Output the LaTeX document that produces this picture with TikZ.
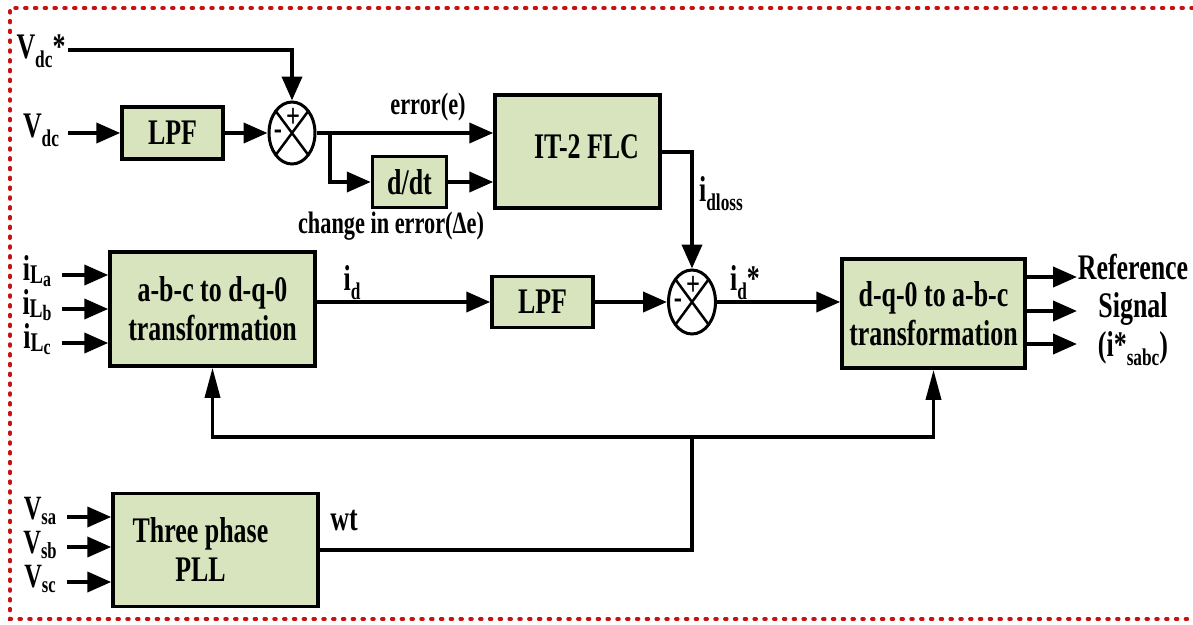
\documentclass[tikz,border=0pt]{standalone}
\usepackage{fontspec}
\setmainfont{Liberation Serif}[FakeStretch=0.72]
\usepackage{graphicx}
\usetikzlibrary{arrows.meta,shapes.geometric,calc}
\definecolor{boxgreen}{RGB}{215,228,189}
\definecolor{dotred}{RGB}{200,18,18}
\newcommand\lwr[1]{\raisebox{-0.25em}{\fontsize{24}{24}\selectfont #1}}
\newcommand\lwrs[1]{\raisebox{-0.12em}{\fontsize{23}{23}\selectfont #1}}
\newcommand\ilab[1]{i\raisebox{-0.08em}{\fontsize{27}{27}\selectfont L}\raisebox{-0.15em}{\fontsize{22}{22}\selectfont #1}}
\begin{document}
\begin{tikzpicture}[x=1pt,y=-1pt,
  every node/.style={font=\bfseries\fontsize{36}{39}\selectfont, inner sep=0pt},
  blk/.style={draw, fill=boxgreen, line width=3.5pt, align=center},
  sumnode/.style={draw, ellipse, line width=3pt, minimum width=46pt, minimum height=62pt,
    path picture={\draw[line width=2.5pt] (path picture bounding box.north west) -- (path picture bounding box.south east)
      (path picture bounding box.north east) -- (path picture bounding box.south west);}},
  sgn/.style={font=\bfseries\fontsize{34}{34}\selectfont},
  ln/.style={line width=4pt},
  arr/.style={ln, -{Triangle[length=24pt,width=20pt]}},
  uparr/.style={line width=3.5pt, -{Triangle[length=30pt,width=15pt]}},
  lab/.style={font=\bfseries\fontsize{31}{33}\selectfont},
  vlab/.style={font=\bfseries\fontsize{34}{36}\selectfont}
]
\useasboundingbox (0,0) rectangle (1193,624);
% border
\draw[dotred, line width=3.5pt, line cap=round, dash pattern=on 2pt off 7.8pt]
  (1193,8) -- (10,8) -- (10,619) -- (1193,619);

% blocks
\node[blk, minimum width=101pt, minimum height=52pt] (lpfa) at (172.5,133) {LPF};
\node[sumnode] (s1) at (292,133) {};
\node[sgn] (s1p) at ($(s1)+(1,-15)$) {+};
\node[sgn] (s1m) at ($(s1)+(-14,2)$) {-};
\node[blk, minimum width=74pt, minimum height=51pt] (ddt) at (409.5,182) {d/dt};
\node[blk, minimum width=165pt, minimum height=113pt] (flc) at (577.5,151.5) {\hspace*{18pt}\raisebox{10pt}{IT-2 FLC}};
\node[blk, minimum width=205pt, minimum height=114pt] (abc) at (212.5,309) {a-b-c to d-q-0\\transformation};
\node[blk, minimum width=101pt, minimum height=51pt] (lpfb) at (542.5,302) {LPF};
\node[sumnode, minimum width=47pt, minimum height=64pt] (s2) at (692,302) {};
\node[sgn] (s2p) at ($(s2)+(1,-16)$) {+};
\node[sgn] (s2m) at ($(s2)+(-14,2)$) {-};
\node[blk, minimum width=183pt, minimum height=109pt] (dqo) at (933.5,313.5) {d-q-0 to a-b-c\\transformation};
\node[blk, minimum width=205pt, minimum height=113pt] (pll) at (215.5,550) {Three phase\hspace*{30pt}\\PLL\hspace*{30pt}};

% top inputs
\coordinate (vsin) at (68,50);
\node (vsl) at (41,51) {V\lwr{dc}*};
\draw[arr] (vsin) -| (s1.north);
\coordinate (vdcin) at (68,133);
\node (vdcl) at (41,130) {V\lwr{dc}};
\draw[arr] (vdcin) -- (lpfa.west);
\draw[arr] (lpfa.east) -- (s1.west);
\draw[arr] (s1.east) -- (s1.east -| flc.west);
\coordinate (br) at (330,133);
\draw[arr] (br) |- (ddt.west);
\draw[arr] (ddt.east) -- (ddt.east -| flc.west);
\node[lab] (errl) at (428,107) {error(e)};
\node[lab] (cerl) at (391,226) {change in error(Δe)};
\draw[arr] (flc.east) -| (s2.north);
\node (idl) at (721,194) {i\lwr{dloss}};

% middle row
\coordinate (ila) at (62,275);
\coordinate (ilb) at (62,309);
\coordinate (ilc) at (62,343);
\draw[arr] (ila) -- (ila -| abc.west);
\draw[arr] (ilb) -- (ilb -| abc.west);
\draw[arr] (ilc) -- (ilc -| abc.west);
\node (ilal) at (37,271) {\ilab{a}};
\node (ilbl) at (37,305) {\ilab{b}};
\node (ilcl) at (37,339) {\ilab{c}};
\draw[arr] (abc.east |- lpfb.west) -- (lpfb.west);
\node (idn) at (352,283) {i\lwr{d}};
\draw[arr] (lpfb.east) -- (s2.west);
\draw[arr] (s2.east) -- (s2.east -| dqo.west);
\node (idsl) at (745,283) {i\lwr{d}*};

% outputs
\coordinate (o1) at (1077,277);
\coordinate (o2) at (1077,311);
\coordinate (o3) at (1077,344);
\draw[arr] (dqo.east |- o1) -- (o1);
\draw[arr] (dqo.east |- o2) -- (o2);
\draw[arr] (dqo.east |- o3) -- (o3);
\node (ref1) at (1133,267) {Reference};
\node (ref2) at (1133,309) {Signal};
\node (ref3) at (1133,349) {(i*\lwr{sabc})};

% PLL
\coordinate (va) at (67,517);
\coordinate (vb) at (67,547);
\coordinate (vc) at (67,582);
\draw[arr] (va) -- (va -| pll.west);
\draw[arr] (vb) -- (vb -| pll.west);
\draw[arr] (vc) -- (vc -| pll.west);
\node[vlab] (val) at (40,511) {V\lwrs{sa}};
\node[vlab] (vbl) at (40,545) {V\lwrs{sb}};
\node[vlab] (vcl) at (40,579) {V\lwrs{sc}};

% bus
\coordinate (jn) at (692,437);
\draw[ln] (pll.east) -| (jn);
\draw[uparr] (jn) -| (abc.south);
\draw[uparr] (jn) -| (dqo.south);
\node (wtl) at (344,521) {wt};
\end{tikzpicture}
\end{document}
